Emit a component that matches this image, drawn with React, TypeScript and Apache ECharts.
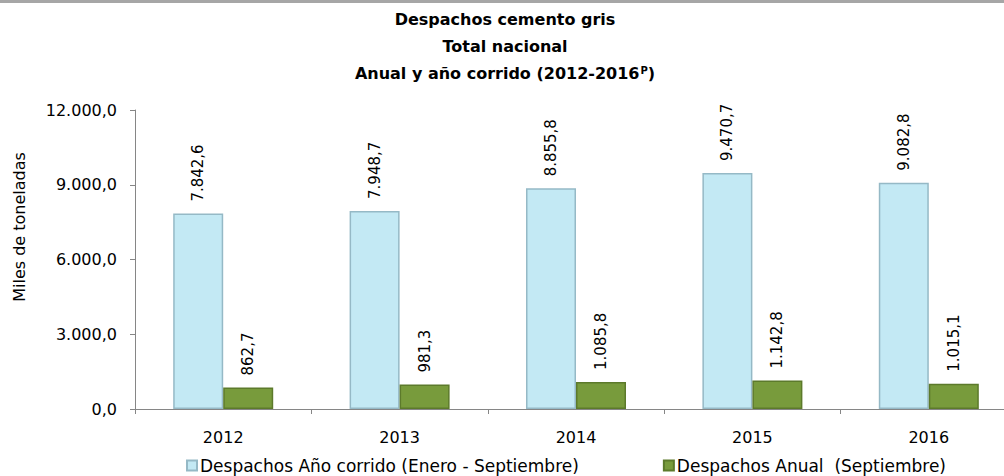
import React, { useEffect, useRef } from "react";
import * as echarts from "echarts";

const years = ["2012", "2013", "2014", "2015", "2016"];
const anioCorrido = [7842.6, 7948.7, 8855.8, 9470.7, 9082.8];
const anual = [862.7, 981.3, 1085.8, 1142.8, 1015.1];
const seriesNames = [
  "Despachos Año corrido (Enero - Septiembre)",
  "Despachos Anual  (Septiembre)",
];
const yTicks = { min: 0, max: 12000, interval: 3000 };

const FONT = "DejaVu Sans";

function fmt(v: number): string {
  const [i, d] = v.toFixed(1).split(".");
  return i.replace(/\B(?=(\d{3})+(?!\d))/g, ".") + "," + d;
}

export default function App() {
  const ref = useRef<HTMLDivElement>(null);
  useEffect(() => {
    const chart = echarts.init(ref.current!, null, { renderer: "svg" });
    const labelCfg = {
      show: true,
      position: "top",
      rotate: 90,
      align: "left",
      verticalAlign: "middle",
      distance: 12,
      fontFamily: FONT,
      fontSize: 15,
      color: "#000",
      formatter: (p: any) => fmt(p.value),
    };
    chart.setOption({
      animation: false,
      backgroundColor: "#fff",
      title: {
        text: "Despachos cemento gris\nTotal nacional\nAnual y año corrido (2012-2016{s|P})",
        left: 500,
        top: 1,
        textAlign: "center",
        textStyle: {
          fontFamily: FONT,
          fontWeight: "bold",
          fontSize: 16,
          lineHeight: 27,
          color: "#000",
          rich: {
            s: {
              fontFamily: FONT,
              fontWeight: "bold",
              fontSize: 10,
              lineHeight: 12,
              padding: [5, 0, 0, 1],
              verticalAlign: "top",
              color: "#000",
            },
          },
        },
      },
      graphic: [
        {
          type: "rect",
          shape: { x: 0, y: 0, width: 1004, height: 3 },
          style: { fill: "#a6a6a6" },
        },
        {
          type: "text",
          x: 19,
          y: 227,
          rotation: Math.PI / 2,
          style: {
            text: "Miles de toneladas",
            fontFamily: FONT,
            fontSize: 16,
            fill: "#000",
            align: "center",
            verticalAlign: "middle",
          },
        },
      ],
      legend: {
        left: 181,
        top: 452,
        itemWidth: 10,
        itemHeight: 10,
        itemGap: 84,
        icon: "rect",
        textStyle: { fontFamily: FONT, fontSize: 17, color: "#000", padding: [0, 0, 0, -2] },
        data: seriesNames,
      },
      grid: { left: 135, width: 882, top: 110, bottom: 67, outerBoundsMode: "none" },
      xAxis: {
        type: "category",
        data: years,
        axisLine: { lineStyle: { color: "#868686" } },
        axisTick: { show: true, length: 5, lineStyle: { color: "#868686" } },
        axisLabel: { fontFamily: FONT, fontSize: 16, color: "#000", margin: 20 },
      },
      yAxis: {
        type: "value",
        min: yTicks.min,
        max: yTicks.max,
        interval: yTicks.interval,
        splitLine: { show: false },
        axisLine: { show: true, lineStyle: { color: "#868686" } },
        axisTick: { show: true, length: 5, lineStyle: { color: "#868686" } },
        axisLabel: {
          fontFamily: FONT,
          fontSize: 16,
          color: "#000",
          margin: 18,
          formatter: (v: number) => fmt(v),
        },
      },
      series: [
        {
          name: seriesNames[0],
          type: "bar",
          data: anioCorrido,
          barWidth: 50,
          barGap: "0%",
          itemStyle: { color: "#c3e9f4", borderColor: "#95b9c6", borderWidth: 1.5 },
          label: labelCfg,
        },
        {
          name: seriesNames[1],
          type: "bar",
          data: anual,
          barWidth: 50,
          itemStyle: { color: "#789b3c", borderColor: "#5c7a2b", borderWidth: 1.5 },
          label: labelCfg,
        },
      ],
    });
    return () => chart.dispose();
  }, []);
  return (
    <div
      ref={ref}
      style={{ position: "fixed", left: 0, top: 0, width: 1004, height: 476 }}
    />
  );
}
